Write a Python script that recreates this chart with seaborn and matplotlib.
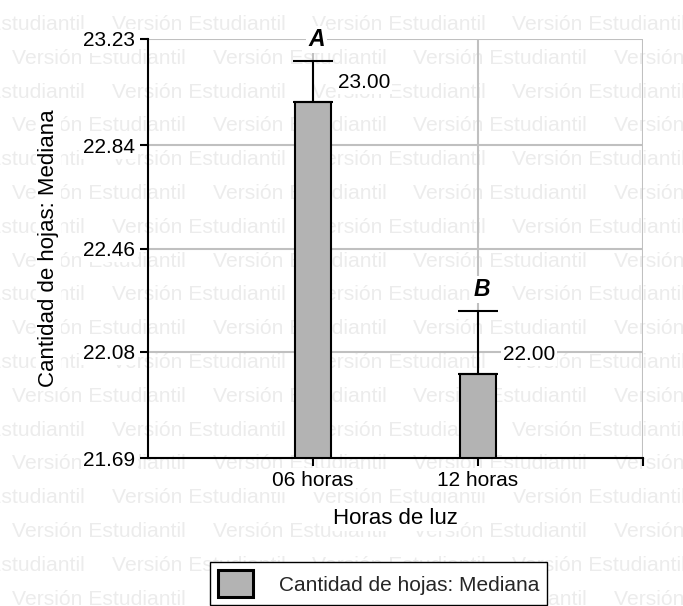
import matplotlib
matplotlib.use('Agg')
import matplotlib.pyplot as plt
import seaborn as sns
import pandas as pd
from matplotlib.patches import Patch

categories = ['06 horas', '12 horas']
medians = [23.00, 22.00]
err_upper = [0.15, 0.23]
letters = ['A', 'B']
ytick_values = [21.69, 22.08, 22.46, 22.84, 23.23]
ytick_labels = ['21.69', '22.08', '22.46', '22.84', '23.23']
x_label = 'Horas de luz'
y_label = 'Cantidad de hojas: Mediana'
legend_label = 'Cantidad de hojas: Mediana'
watermark = 'Versión Estudiantil'

sns.set_theme(style='white')
plt.rcParams['font.family'] = ['Liberation Sans', 'DejaVu Sans']

W, H = 683, 606
fig = plt.figure(figsize=(W / 100, H / 100), dpi=100, facecolor='white')
ax = fig.add_axes([148 / W, 1 - 458 / H, 495 / W, 419 / H])
ax.set_facecolor('none')

# background watermark
for k in range(19):
    yb = 30 + 33.8 * k
    x0 = -89 if k % 2 == 0 else 12
    for j in range(5):
        fig.text((x0 + 200.5 * j) / W, 1 - yb / H, watermark, color='#ececec',
                 fontsize=15.2, ha='left', va='baseline', zorder=-10)

white_box = dict(facecolor='white', edgecolor='none', pad=1.5)

df = pd.DataFrame({'hours': categories, 'median': medians})
sns.barplot(data=df, x='hours', y='median', color='#b3b3b3', saturation=1,
            edgecolor='black', linewidth=1.5, width=0.22, errorbar=None,
            ax=ax, zorder=2)

xpos = list(range(len(categories)))
ax.errorbar(xpos, medians, yerr=[[0] * len(medians), err_upper], fmt='none',
            ecolor='black', elinewidth=1.5, capsize=14.7, capthick=1.5, zorder=3)

for i, (v, e, L) in enumerate(zip(medians, err_upper, letters)):
    ax.annotate(f'{v:.2f}', xy=(i, v), xytext=(18, 13.5), textcoords='offset points',
                ha='left', va='center', fontsize=15, color='black', bbox=white_box, zorder=5)
    ax.annotate(L, xy=(i, v + e), xytext=(2.5, 15.5), textcoords='offset points',
                ha='center', va='center', fontsize=16.5, fontweight='bold', fontstyle='italic',
                color='black', bbox=white_box, zorder=5, annotation_clip=False)

ax.set_xlim(-1, 2)
ax.set_ylim(ytick_values[0], ytick_values[-1])
ax.set_xticks([0, 1, 2])
ax.set_xticklabels(categories + [''])
ax.set_yticks(ytick_values)
ax.set_yticklabels(ytick_labels)

ax.grid(True, color='#c0c0c0', linewidth=1.5)
ax.set_axisbelow(True)
for s in ['top', 'right']:
    ax.spines[s].set_visible(False)
for s in ['left', 'bottom']:
    ax.spines[s].set_color('black')
    ax.spines[s].set_linewidth(1.5)

ax.tick_params(axis='both', direction='out', length=6, width=1.5, color='black',
               labelsize=15, pad=3, left=True, bottom=True, labelcolor='black')
for lbl in ax.get_xticklabels() + ax.get_yticklabels():
    lbl.set_bbox(white_box)

ax.set_xlabel(x_label, fontsize=16, color='black', bbox=white_box)
ax.set_ylabel(y_label, fontsize=16, color='black', bbox=white_box)
ax.xaxis.set_label_coords(0.5, -0.12)
ax.yaxis.set_label_coords(-0.18, 0.5)

handle = Patch(facecolor='#b3b3b3', edgecolor='black', linewidth=2.2)
leg = fig.legend([handle], [legend_label], loc='upper left',
                 bbox_to_anchor=(210 / W, 1 - 562 / H), borderaxespad=0,
                 fontsize=15, frameon=True, fancybox=False, framealpha=1,
                 facecolor='white', edgecolor='black', borderpad=0.4,
                 handlelength=1.65, handleheight=1.6, handletextpad=1.25)
leg.get_frame().set_linewidth(1.0)

fig.savefig('out.png', dpi=100, facecolor='white')
